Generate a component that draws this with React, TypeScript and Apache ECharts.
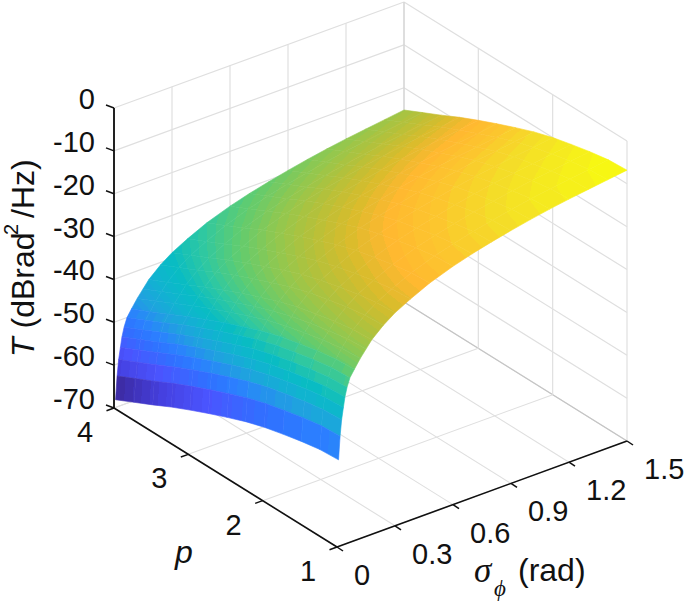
import React, { useEffect, useRef } from "react";
import * as echarts from "echarts";

const sigmaValues = [0.008, 0.016, 0.024, 0.033, 0.041, 0.052, 0.067, 0.09, 0.12, 0.15, 0.18, 0.24, 0.3, 0.38, 0.48, 0.6, 0.7, 0.8, 0.9, 1, 1.1, 1.2, 1.3, 1.4, 1.5];
const pValues = [1, 1.25, 1.5, 1.75, 2, 2.25, 2.5, 2.75, 3, 3.25, 3.5, 3.75, 4];
// one row per sigma, one column per p
const tValues = [
  [-49.8, -50.1, -50.9, -51.9, -53, -54.4, -56.1, -57.9, -59.8, -61.8, -64, -66.1, -68.2],
  [-44.4, -44.7, -45.5, -46.5, -47.6, -49, -50.7, -52.5, -54.4, -56.4, -58.6, -60.7, -62.8],
  [-40.7, -41, -41.8, -42.8, -43.9, -45.3, -47, -48.8, -50.7, -52.7, -54.9, -57, -59.1],
  [-38, -38.3, -39.1, -40.1, -41.2, -42.6, -44.3, -46.1, -48, -50, -52.2, -54.3, -56.4],
  [-35.7, -36, -36.8, -37.8, -38.9, -40.3, -42, -43.8, -45.7, -47.7, -49.9, -52, -54.1],
  [-33.6, -33.9, -34.7, -35.7, -36.8, -38.2, -39.9, -41.7, -43.6, -45.6, -47.8, -49.9, -52],
  [-31.6, -31.9, -32.7, -33.7, -34.8, -36.2, -37.9, -39.7, -41.6, -43.6, -45.8, -47.9, -50],
  [-30, -30.3, -31.1, -32.1, -33.2, -34.6, -36.3, -38.1, -40, -42, -44.2, -46.3, -48.4],
  [-28, -28.3, -29.1, -30.1, -31.2, -32.6, -34.3, -36.1, -38, -40, -42.2, -44.3, -46.4],
  [-26.3, -26.6, -27.4, -28.4, -29.5, -30.9, -32.6, -34.4, -36.3, -38.3, -40.5, -42.6, -44.7],
  [-24.6, -24.9, -25.7, -26.7, -27.8, -29.2, -30.9, -32.7, -34.6, -36.6, -38.8, -40.9, -43],
  [-22.2, -22.5, -23.3, -24.3, -25.4, -26.8, -28.5, -30.3, -32.2, -34.2, -36.4, -38.5, -40.6],
  [-20.3, -20.6, -21.4, -22.4, -23.5, -24.9, -26.6, -28.4, -30.3, -32.3, -34.5, -36.6, -38.7],
  [-18.4, -18.7, -19.5, -20.5, -21.6, -23, -24.7, -26.5, -28.4, -30.4, -32.6, -34.7, -36.8],
  [-16.3, -16.6, -17.4, -18.4, -19.5, -20.9, -22.6, -24.4, -26.3, -28.3, -30.5, -32.6, -34.7],
  [-14.4, -14.7, -15.5, -16.5, -17.6, -19, -20.7, -22.5, -24.4, -26.4, -28.6, -30.7, -32.8],
  [-13.1, -13.4, -14.2, -15.2, -16.3, -17.7, -19.4, -21.2, -23.1, -25.1, -27.3, -29.4, -31.5],
  [-12, -12.3, -13.1, -14.1, -15.2, -16.6, -18.3, -20.1, -22, -24, -26.2, -28.3, -30.4],
  [-11, -11.3, -12.1, -13.1, -14.2, -15.6, -17.3, -19.1, -21, -23, -25.2, -27.3, -29.4],
  [-10.1, -10.4, -11.2, -12.2, -13.3, -14.7, -16.4, -18.2, -20.1, -22.1, -24.3, -26.4, -28.5],
  [-9.3, -9.6, -10.4, -11.4, -12.5, -13.9, -15.6, -17.4, -19.3, -21.3, -23.5, -25.6, -27.7],
  [-8.6, -8.9, -9.7, -10.7, -11.8, -13.2, -14.9, -16.7, -18.6, -20.6, -22.8, -24.9, -27],
  [-8, -8.3, -9.1, -10.1, -11.2, -12.6, -14.3, -16.1, -18, -20, -22.2, -24.3, -26.4],
  [-7.4, -7.7, -8.5, -9.5, -10.6, -12, -13.7, -15.5, -17.4, -19.4, -21.6, -23.7, -25.8],
  [-6.8, -7.1, -7.9, -8.9, -10, -11.4, -13.1, -14.9, -16.8, -18.8, -21, -23.1, -25.2],
];

const sigmaTicks = [0, 0.3, 0.6, 0.9, 1.2, 1.5];
const sigmaTickLabels = ["0", "0.3", "0.6", "0.9", "1.2", "1.5"];
const pTicks = [1, 2, 3, 4];
const pTickLabels = ["1", "2", "3", "4"];
const tTicks = [0, -10, -20, -30, -40, -50, -60, -70];
const tTickLabels = ["0", "-10", "-20", "-30", "-40", "-50", "-60", "-70"];

const colorLevels = [-68.2, -63, -58, -53, -50, -46, -42, -39, -35, -31, -27, -23, -20, -17, -14, -11, -8.5, -6.8];
const colorStops = ["#3c2aa0", "#4540e0", "#4a55ff", "#3070ff", "#2b80ff", "#20a0e0", "#10b4d0", "#08bcc4", "#30c8a0", "#60cc70", "#90c850", "#b8c038", "#d8bc2c", "#ffb830", "#fcc62e", "#f4de28", "#f6ee1c", "#f8fa10"];

const FONT = '"Liberation Sans", Arial, sans-serif';
const SERIF = '"Liberation Serif", "DejaVu Serif", serif';
const INK = "#111111";
const BANDS = 64;
const FLAT_ROWS = 7;

// Oblique view of the box: where (sigma=0, p=1, T=-70) lands, and what each axis's full span adds.
const project = (s: number, p: number, t: number): [number, number] => {
  const a = s / 1.5, b = (p - 1) / 3, c = (t + 70) / 70;
  return [337 + 290 * a - 223 * b, 547 - 106 * a - 139 * b - 300 * c];
};

const hex = (c: string) => [1, 3, 5].map((k) => parseInt(c.slice(k, k + 2), 16));
const LO = colorLevels[0], HI = colorLevels[colorLevels.length - 1], STEP = (HI - LO) / BANDS;
const bandOf = (t: number) => Math.max(0, Math.min(BANDS - 1, Math.floor((t - LO) / STEP)));
const bandColor = (band: number) => {
  const v = LO + (band + 0.5) * STEP;
  let i = 0;
  while (i < colorLevels.length - 2 && v > colorLevels[i + 1]) i++;
  const f = (v - colorLevels[i]) / (colorLevels[i + 1] - colorLevels[i]);
  const A = hex(colorStops[i]), B = hex(colorStops[i + 1]);
  return `rgb(${A.map((x, k) => Math.round(x + (B[k] - x) * f)).join(",")})`;
};

// Fill for one mesh cell: hard colour bands across the cell, running along its T contours.
const cellFill = (P: number[][], T: number[], flat: boolean): any => {
  const [p00, p10, p11, p01] = P;
  const [t00, t10, t11, t01] = flat ? [T[0], T[0], T[3], T[3]] : T;
  const du = [(p10[0] - p00[0] + p11[0] - p01[0]) / 2, (p10[1] - p00[1] + p11[1] - p01[1]) / 2];
  const dv = [(p01[0] - p00[0] + p11[0] - p10[0]) / 2, (p01[1] - p00[1] + p11[1] - p10[1]) / 2];
  const dTu = (t10 - t00 + t11 - t01) / 2;
  const dTv = (t01 - t00 + t11 - t10) / 2;
  const det = du[0] * dv[1] - du[1] * dv[0];
  const lo = Math.min(t00, t10, t11, t01), hi = Math.max(t00, t10, t11, t01);
  if (Math.abs(det) < 1e-6 || hi - lo < 1e-6 || bandOf(lo) === bandOf(hi)) return bandColor(bandOf((lo + hi) / 2));
  const gx = (dTu * dv[1] - dTv * du[1]) / det;
  const gy = (du[0] * dTv - dv[0] * dTu) / det;
  const g2 = gx * gx + gy * gy;
  if (g2 < 1e-9) return bandColor(bandOf((lo + hi) / 2));
  const cx = (p00[0] + p10[0] + p11[0] + p01[0]) / 4, cy = (p00[1] + p10[1] + p11[1] + p01[1]) / 4;
  const tc = (t00 + t10 + t11 + t01) / 4;
  const at = (t: number) => [cx + ((t - tc) * gx) / g2, cy + ((t - tc) * gy) / g2];
  const a = at(lo - 1), b = at(hi + 1);
  const span = hi - lo + 2;
  const stops: any[] = [];
  const first = bandOf(lo - 1), last = bandOf(hi + 1);
  for (let k = first; k <= last; k++) {
    const from = k === first ? 0 : (LO + k * STEP - (lo - 1)) / span;
    const to = k === last ? 1 : (LO + (k + 1) * STEP - (lo - 1)) / span;
    const c = bandColor(k);
    stops.push({ offset: Math.max(0, Math.min(1, from)), color: c }, { offset: Math.max(0, Math.min(1, to)), color: c });
  }
  return { type: "linear", global: true, x: a[0], y: a[1], x2: b[0], y2: b[1], colorStops: stops };
};

type Seg = { a: [number, number, number]; b: [number, number, number]; color: string; width: number };

const buildOption = () => {
  const GRID = "#dfdfdf";
  const EDGE = "#c4c4c4";
  const back: Seg[] = [];
  const add = (list: Seg[], a: any, b: any, color: string, width: number) => list.push({ a, b, color, width });
  const T0 = tTicks[0], TL = tTicks[tTicks.length - 1];
  for (const t of tTicks) {
    add(back, [0, 4, t], [1.5, 4, t], GRID, 1.2);
    add(back, [1.5, 4, t], [1.5, 1, t], GRID, 1.2);
  }
  for (const s of sigmaTicks) {
    add(back, [s, 4, TL], [s, 4, T0], s === 1.5 ? EDGE : GRID, 1.2);
    add(back, [s, 1, TL], [s, 4, TL], s === 1.5 ? EDGE : GRID, 1.1);
  }
  for (const p of pTicks) {
    add(back, [1.5, p, TL], [1.5, p, T0], GRID, 1.2);
    add(back, [0, p, TL], [1.5, p, TL], GRID, 1.1);
  }

  const front: Seg[] = [];
  add(front, [0, 4, TL], [0, 4, T0], "#222222", 2);
  add(front, [0, 4, TL], [0, 1, TL], "#111111", 1.6);
  add(front, [0, 1, TL], [1.5, 1, TL], "#111111", 1.6);

  const tickLines: [number, number, number, number][] = [];
  const tick = (s: number, p: number, t: number, dx: number, dy: number) => {
    const [x, y] = project(s, p, t);
    tickLines.push([x, y, x + dx, y + dy]);
  };
  for (const t of tTicks) tick(0, 4, t, -8, -3);
  for (const p of pTicks) tick(0, p, TL, -7.5, 2.7);
  for (const s of sigmaTicks) tick(s, 1, TL, 6, 4);

  const cells: number[][] = [];
  for (let i = sigmaValues.length - 2; i >= 0; i--)
    for (let j = pValues.length - 2; j >= 0; j--) cells.push([i, j]);

  const segSeries = (name: string, list: Seg[], z: number) => ({
    type: "custom", name, z, silent: true, clip: false,
    data: list.map((_, k) => [k, 0]),
    renderItem: (_: any, api: any) => {
      const g = list[api.value(0)];
      const A = api.coord(project(...g.a)), B = api.coord(project(...g.b));
      return { type: "line", shape: { x1: A[0], y1: A[1], x2: B[0], y2: B[1] }, style: { stroke: g.color, lineWidth: g.width } };
    },
  });

  const text = (t: string, x: number, y: number, size: number, align = "center", family = FONT, style = "normal") => ({
    type: "text", x, y, silent: true,
    style: { text: t, font: `${style} ${size}px ${family}`, fill: INK, textAlign: align, textVerticalAlign: "middle" },
  });

  const graphic: any[] = [];
  tTicks.forEach((t, i) => { const [x, y] = project(0, 4, t); graphic.push(text(tTickLabels[i], x - 19, y - 9, 29, "right")); });
  pTicks.forEach((p, i) => { const [x, y] = project(0, p, TL); graphic.push(text(pTickLabels[i], x - 29, y + 24, 29)); });
  sigmaTicks.forEach((s, i) => { const [x, y] = project(s, 1, TL); graphic.push(text(sigmaTickLabels[i], x + 17, y + 28, 29, "left")); });

  graphic.push(text("p", 184, 552, 32, "center", FONT, "italic"));
  graphic.push(text("σ", 474, 570, 35, "left", SERIF, "italic"));
  graphic.push(text("ϕ", 494, 588, 23, "left", SERIF, "italic"));
  graphic.push(text("(rad)", 518, 570, 32, "left"));
  graphic.push({
    type: "group", x: 23, y: 357, rotation: Math.PI / 2, silent: true,
    children: [
      text("T", 0, 0, 32, "left", FONT, "italic"),
      text("(dBrad", 28.5, 0, 32, "left"),
      text("2", 122, -12, 20, "left"),
      text("/Hz)", 139, 0, 32, "left"),
    ],
  });

  return {
    animation: false,
    backgroundColor: "#ffffff",
    grid: { left: 0, right: 0, top: 0, bottom: 0 },
    xAxis: { type: "value", min: 0, max: 685, show: false },
    yAxis: { type: "value", min: 0, max: 601, inverse: true, show: false },
    graphic,
    series: [
      segSeries("box", back, 1),
      {
        type: "custom", name: "T", z: 2, silent: true, clip: false,
        data: cells,
        renderItem: (_: any, api: any) => {
          const i = api.value(0), j = api.value(1);
          const corner = (a: number, b: number) => api.coord(project(sigmaValues[a], pValues[b], tValues[a][b]));
          const P = [corner(i, j), corner(i + 1, j), corner(i + 1, j + 1), corner(i, j + 1)];
          const T = [tValues[i][j], tValues[i + 1][j], tValues[i + 1][j + 1], tValues[i][j + 1]];
          const fill = cellFill(P, T, i < FLAT_ROWS);
          return {
            type: "polygon",
            shape: { points: P },
            style: { fill, stroke: fill, lineWidth: 0.6 },
          };
        },
      },
      segSeries("axes", front, 3),
      {
        type: "custom", name: "ticks", z: 3, silent: true, clip: false,
        data: tickLines.map((_, k) => [k, 0]),
        renderItem: (_: any, api: any) => {
          const l = tickLines[api.value(0)];
          const A = api.coord([l[0], l[1]]), B = api.coord([l[2], l[3]]);
          return { type: "line", shape: { x1: A[0], y1: A[1], x2: B[0], y2: B[1] }, style: { stroke: "#111111", lineWidth: 1.5 } };
        },
      },
    ],
  };
};

export default function App() {
  const ref = useRef<HTMLDivElement>(null);
  useEffect(() => {
    const chart = echarts.init(ref.current!, undefined, { renderer: "svg" });
    chart.setOption(buildOption() as any);
    return () => chart.dispose();
  }, []);
  return <div ref={ref} style={{ position: "fixed", left: 0, top: 0, width: 685, height: 601 }} />;
}
